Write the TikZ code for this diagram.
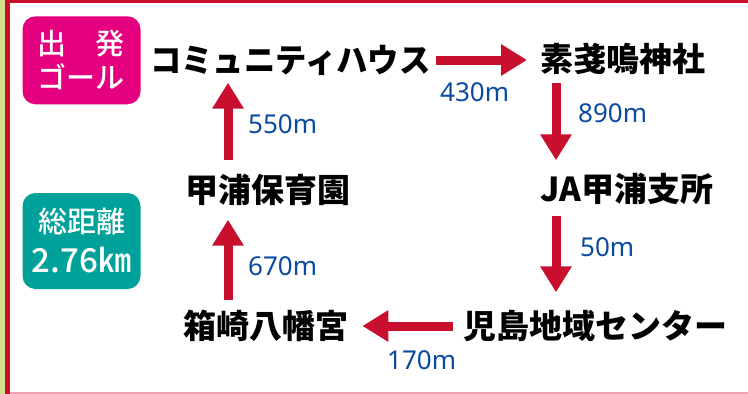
\documentclass[tikz,border=0pt]{standalone}
\usepackage{fontspec}
\usetikzlibrary{arrows.meta,calc}
\newfontfamily\jp{Noto Sans CJK JP}
\newfontfamily\jpm{Noto Sans CJK JP Medium}
\newfontfamily\lab{Noto Sans}
\definecolor{arrred}{HTML}{C8102E}
\definecolor{labblue}{HTML}{0B4A9E}
\definecolor{pinkbox}{HTML}{E4007F}
\definecolor{tealbox}{HTML}{00A19A}
\definecolor{strip}{HTML}{D6E08C}
\definecolor{frame}{HTML}{C8102E}
\definecolor{pinkline}{HTML}{F2A3B3}
\tikzset{
  place/.style={anchor=base west,inner sep=0pt,text height=29pt,text depth=4pt,
    font=\jp\bfseries\fontsize{33}{36}\selectfont,text=black},
  dist/.style={anchor=base west,inner sep=0pt,font=\lab\fontsize{26}{30}\selectfont,text=labblue},
  arr/.style={draw=arrred,line width=9pt,-{Triangle[width=30pt,length=26pt]}},
  infobox/.style={rounded corners=13pt,minimum width=118pt,minimum height=88pt,inner sep=0pt},
  boxtxt/.style={anchor=base,inner sep=0pt,text=white,font=\jpm\fontsize{29}{34}\selectfont}
}
\begin{document}
\begin{tikzpicture}[x=1pt,y=-1pt]
\useasboundingbox (0,0) rectangle (748,394);
% frame
\fill[strip] (0,0) rectangle (5,394);
\fill[frame] (5,0) rectangle (10,394);
\fill[frame] (5,0) rectangle (748,3);
\fill[pinkline] (10,392) rectangle (748,394);
% info boxes
\node[infobox,fill=pinkbox] (start) at (81.5,60.3) {};
\node[boxtxt] (startA) at (81,54) {出　発};
\node[boxtxt] (startB) at (81,88) {ゴール};
\node[infobox,fill=tealbox,minimum height=96pt] (total) at (81.5,241) {};
\node[boxtxt] (totalA) at (81.5,232) {総距離};
\node[boxtxt,font=\jpm\fontsize{33}{36}\selectfont] (totalB) at (81.5,272) {2.76㎞};
% places
\node[place] (ch) at (150,72.5) {\scalebox{0.95}[1]{コミュニティハウス}};
\node[place] (sj) at (540,71) {素戔嗚神社};
\node[place] (ja) at (540,201.5) {JA甲浦支所};
\node[place] (kj) at (463,338.5) {児島地域センター};
\node[place] (hh) at (183,338.5) {箱崎八幡宮};
\node[place] (kh) at (185,202.5) {甲浦保育園};
% arrows
\draw[arr,shorten <=5pt,shorten >=13pt] (ch.east) -- (ch.east -| sj.west);
\draw[arr,shorten <=8pt,shorten >=12pt] ([xshift=16pt]sj.south west) -- ([xshift=16pt]sj.south west |- ja.north);
\draw[arr,shorten <=10pt,shorten >=17pt] ([xshift=16pt]ja.south west) -- ([xshift=16pt]ja.south west |- kj.north);
\draw[arr,shorten <=10pt,shorten >=14pt] (kj.west) -- (kj.west -| hh.east);
\draw[arr,shorten <=9pt,shorten >=13pt] ([xshift=45pt]hh.north west) -- ([xshift=45pt]hh.north west |- kh.south);
\draw[arr,shorten <=13pt,shorten >=6pt] ([xshift=43pt]kh.north west) -- ([xshift=43pt]kh.north west |- ch.south);
% distances
\node[dist] (d1) at (440,101.3) {430m};
\node[dist] (d2) at (578,122.3) {890m};
\node[dist] (d3) at (580,256.3) {50m};
\node[dist] (d4) at (387,369.3) {170m};
\node[dist] (d5) at (248,275.3) {670m};
\node[dist] (d6) at (248,133.3) {550m};
\end{tikzpicture}
\end{document}
